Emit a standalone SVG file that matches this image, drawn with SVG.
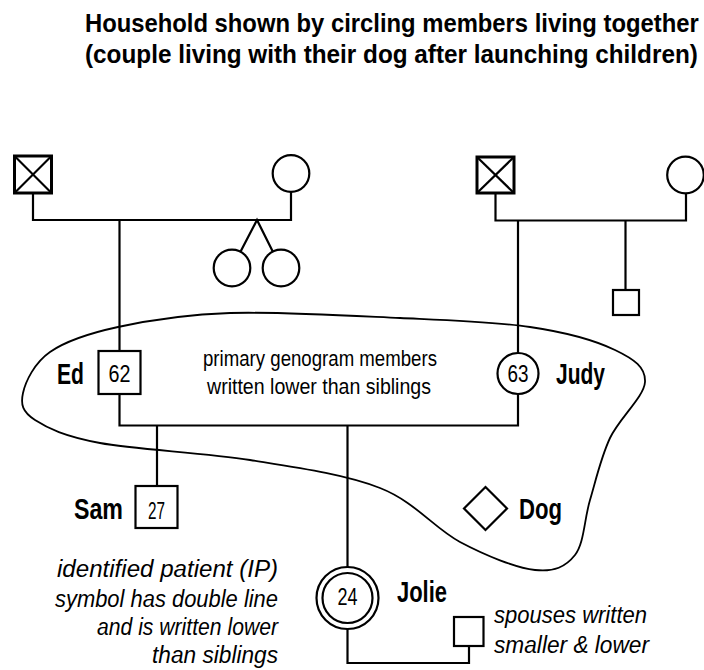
<svg xmlns="http://www.w3.org/2000/svg" width="704" height="670" viewBox="0 0 704 670">
<style>
.ln{fill:none;stroke:#000;stroke-width:2.2}
.sym{fill:#fff;stroke:#000;stroke-width:2.2}
.dec{fill:#fff;stroke:#000;stroke-width:3}
.x{stroke:#000;stroke-width:2.2}
.loop{fill:none;stroke:#000;stroke-width:1.8}
.title{font-family:"Liberation Sans",Arial,sans-serif;font-weight:bold;font-size:26.5px;fill:#000}
.name{font-family:"Liberation Sans",Arial,sans-serif;font-weight:bold;font-size:30px;fill:#000}
.age{font-family:"Liberation Sans",Arial,sans-serif;font-size:23px;fill:#000;text-anchor:middle}
.note{font-family:"Liberation Sans",Arial,sans-serif;font-size:22px;fill:#000;text-anchor:middle}
.it{font-family:"Liberation Sans",Arial,sans-serif;font-style:italic;font-size:23.5px;fill:#000}
</style>
<rect width="704" height="670" fill="#fff"/>
<g id="title">
<text class="title" transform="translate(85,32.3) scale(0.85,1)" x="0" y="0" textLength="722" lengthAdjust="spacingAndGlyphs">Household shown by circling members living together</text>
<text class="title" transform="translate(85,63) scale(0.85,1)" x="0" y="0" textLength="721" lengthAdjust="spacingAndGlyphs">(couple living with their dog after launching children)</text>
</g>
<g id="household">
<path class="loop" d="M118,327 C148,320.5 183,314.5 230,313 C277,311.5 350,315.7 400,318 C450,320.3 494.2,321.7 530,327 C565.8,332.3 595.8,340.8 615,350 C634.2,359.2 645.8,367.3 645,382 C644.2,396.7 619.2,418.3 610,438 C600.8,457.7 595.8,480.5 590,500 C584.2,519.5 584.2,543.3 575,555 C565.8,566.7 554.2,572.2 535,570 C515.8,567.8 485.8,555.7 460,542 C434.2,528.3 415,501.7 380,488 C345,474.3 296.7,467.5 250,460 C203.3,452.5 135.8,449.7 100,443 C64.2,436.3 47.8,428.3 35,420 C22.2,411.7 20.5,404.3 23,393 C25.5,381.7 34.2,363 50,352 C65.8,341 88,333.5 118,327 Z"/>
</g>
<g id="connectors">
<polyline class="ln" points="33,193 33,220 291,220 291,192"/>
<line class="ln" x1="119.5" y1="220" x2="119.5" y2="351"/>
<polyline class="ln" points="232,268 257,220 281,268"/>
<polyline class="ln" points="495.5,193 495.5,220.5 686,220.5 686,193"/>
<line class="ln" x1="518" y1="220.5" x2="518" y2="353"/>
<line class="ln" x1="625.5" y1="220.5" x2="625.5" y2="290"/>
<polyline class="ln" points="119.5,394 119.5,425.5 518,425.5 518,393"/>
<line class="ln" x1="157" y1="425.5" x2="157" y2="486"/>
<line class="ln" x1="347.5" y1="425.5" x2="347.5" y2="567"/>
<polyline class="ln" points="347.5,629 347.5,663 469,663 469,646"/>
</g>
<g id="pgf">
<rect class="dec" x="14.5" y="156" width="37" height="37"/>
<line class="x" x1="14.5" y1="156" x2="51.5" y2="193"/>
<line class="x" x1="51.5" y1="156" x2="14.5" y2="193"/>
</g>
<g id="pgm"><circle class="sym" cx="291" cy="173.5" r="18.3"/></g>
<g id="twin1"><circle class="sym" cx="232" cy="268" r="18.3"/></g>
<g id="twin2"><circle class="sym" cx="281" cy="268" r="18.3"/></g>
<g id="mgf">
<rect class="dec" x="477" y="157" width="37" height="36"/>
<line class="x" x1="477" y1="157" x2="514" y2="193"/>
<line class="x" x1="514" y1="157" x2="477" y2="193"/>
</g>
<g id="mgm"><circle class="sym" cx="685.5" cy="175" r="18.3"/></g>
<g id="uncle"><rect class="sym" x="613" y="290" width="26" height="25"/></g>
<g id="ed">
<rect class="sym" x="98.5" y="351" width="42" height="43"/>
<text class="age" x="119.5" y="381.5" textLength="22" lengthAdjust="spacingAndGlyphs">62</text>
<text class="name" x="57" y="384" textLength="27" lengthAdjust="spacingAndGlyphs">Ed</text>
</g>
<g id="judy">
<circle class="sym" cx="518" cy="373.5" r="20.5"/>
<text class="age" x="518" y="381.5" textLength="21" lengthAdjust="spacingAndGlyphs">63</text>
<text class="name" x="556" y="383.5" textLength="49" lengthAdjust="spacingAndGlyphs">Judy</text>
</g>
<g id="note-primary">
<text class="note" x="320" y="366" textLength="234" lengthAdjust="spacingAndGlyphs">primary genogram members</text>
<text class="note" x="319" y="393.5" textLength="224" lengthAdjust="spacingAndGlyphs">written lower than siblings</text>
</g>
<g id="sam">
<rect class="sym" x="135.5" y="486" width="42" height="42"/>
<text class="age" x="156.5" y="519" textLength="17" lengthAdjust="spacingAndGlyphs">27</text>
<text class="name" x="74" y="518.5" textLength="49" lengthAdjust="spacingAndGlyphs">Sam</text>
</g>
<g id="dog">
<polygon class="sym" points="485.5,487 507,508.5 485.5,530 464,508.5"/>
<text class="name" x="519" y="518.5" textLength="43" lengthAdjust="spacingAndGlyphs">Dog</text>
</g>
<g id="jolie">
<circle class="sym" cx="347.5" cy="598" r="31"/>
<circle class="sym" cx="347.5" cy="598" r="25"/>
<text class="age" x="347.5" y="605" textLength="20" lengthAdjust="spacingAndGlyphs">24</text>
<text class="name" x="397" y="602" textLength="50" lengthAdjust="spacingAndGlyphs">Jolie</text>
</g>
<g id="spouse">
<rect class="sym" x="454" y="617" width="29.5" height="29"/>
</g>
<g id="note-ip">
<text class="it" x="57" y="577" textLength="221" lengthAdjust="spacingAndGlyphs">identified patient (IP)</text>
<text class="it" x="55" y="607" textLength="223" lengthAdjust="spacingAndGlyphs">symbol has double line</text>
<text class="it" x="97" y="635" textLength="181" lengthAdjust="spacingAndGlyphs">and is written lower</text>
<text class="it" x="152" y="663" textLength="126" lengthAdjust="spacingAndGlyphs">than siblings</text>
</g>
<g id="note-spouse">
<text class="it" x="494" y="623" textLength="153" lengthAdjust="spacingAndGlyphs">spouses written</text>
<text class="it" x="494" y="652.5" textLength="155" lengthAdjust="spacingAndGlyphs">smaller &amp; lower</text>
</g>
</svg>
